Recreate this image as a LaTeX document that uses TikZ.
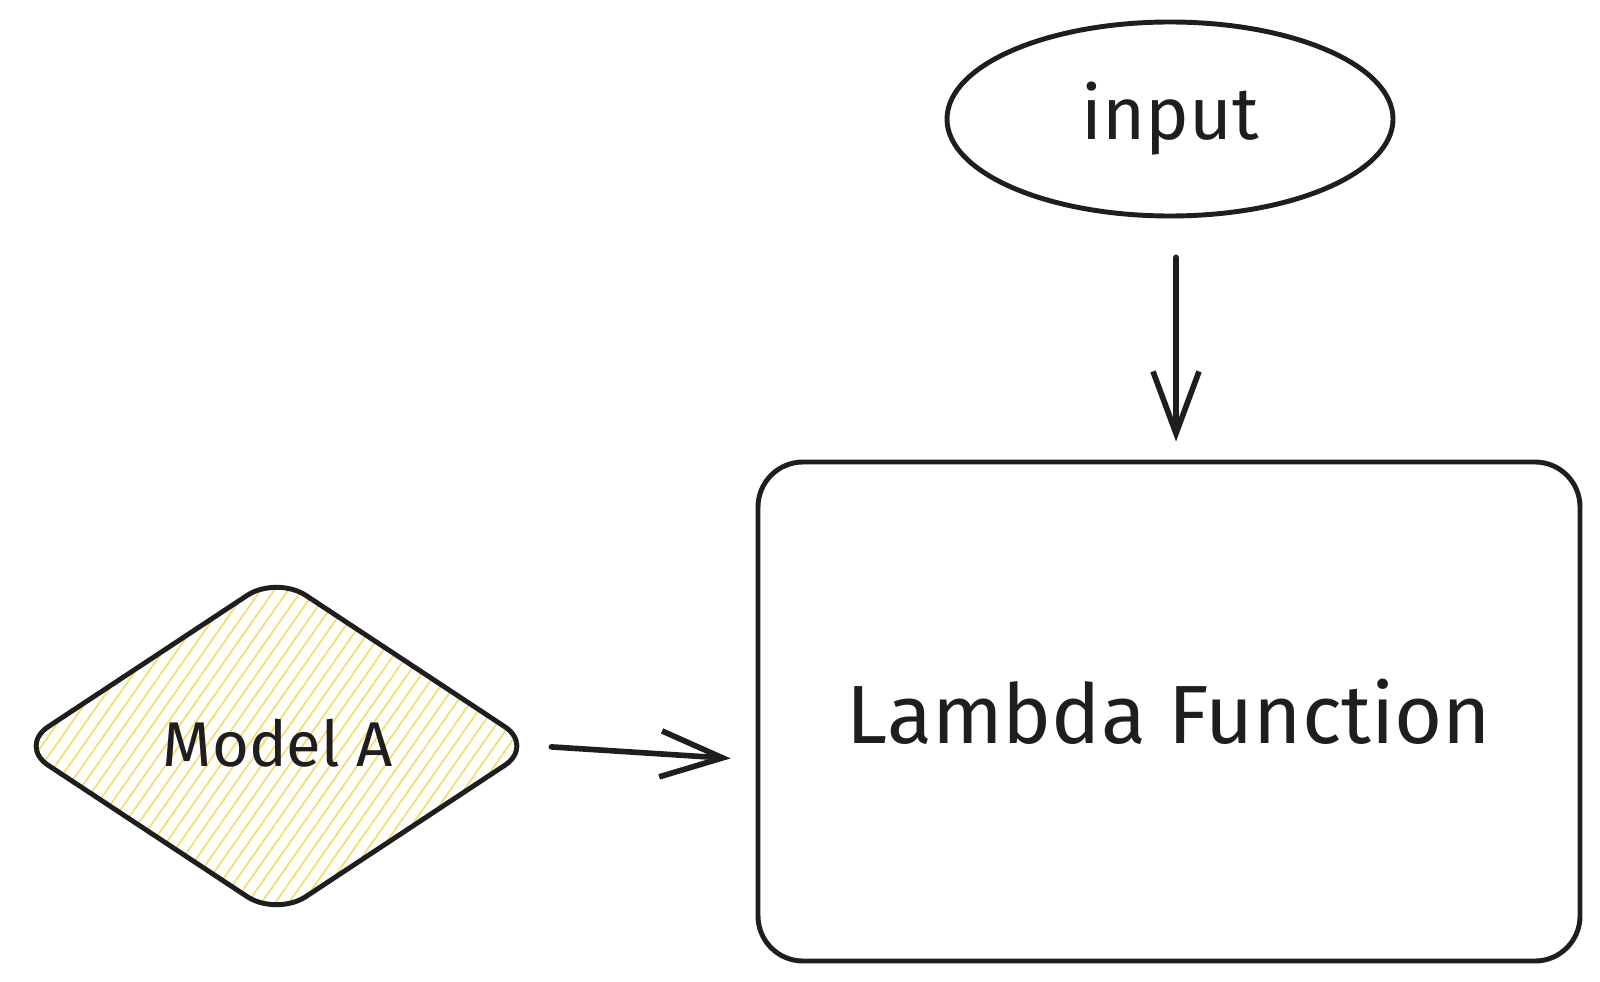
\documentclass[tikz,border=0pt]{standalone}
\usepackage{fontspec}
\setmainfont{Fira Sans}
\usetikzlibrary{arrows.meta, shapes.geometric, patterns.meta, positioning}
\definecolor{InkBlack}{HTML}{1E1E1E}
\definecolor{HatchYellow}{HTML}{F7DE6A}

\begin{document}
\begin{tikzpicture}[x=1cm, y=1cm,
    sketch/.style={draw=InkBlack, line width=1.4pt, text=InkBlack, font=\fontsize{21pt}{23pt}\selectfont},
    flow/.style={-{Straight Barb[length=6.2mm, width=4.6mm, line width=1.6pt]}, InkBlack, line width=1.6pt, line cap=round}]
  \useasboundingbox (0,0) rectangle (16,-9.82);
  % shapes
  \node[sketch, ellipse, minimum width=4.46cm, minimum height=1.94cm, inner sep=0pt] (input) at (11.70,-1.19) {input};
  \node[sketch, rectangle, rounded corners=0.45cm, minimum width=8.22cm, minimum height=4.99cm,
    font=\fontsize{23.5pt}{26pt}\selectfont] (lambda) at (11.69,-7.115) {Lambda Function};
  \node[sketch, diamond, rounded corners=0.35cm, minimum width=5.17cm, minimum height=3.42cm, inner sep=0pt,
    preaction={pattern={Lines[angle=55, distance=3.2pt, line width=0.5pt]}, pattern color=HatchYellow}] (model) at (2.765,-7.46) {};
  \node[text=InkBlack, font=\fontsize{18pt}{20pt}\selectfont] (modeltxt) at (2.78,-7.43) {Model A};
  % connectors
  \draw[flow, shorten <=0.39cm, shorten >=0.18cm] (input.south -| 11.76,0) -- (lambda.north -| 11.76,0);
  \draw[flow, shorten <=0.14cm, shorten >=0.25cm] (model.east) -- (lambda.west |- 0,-7.60);
\end{tikzpicture}
\end{document}
